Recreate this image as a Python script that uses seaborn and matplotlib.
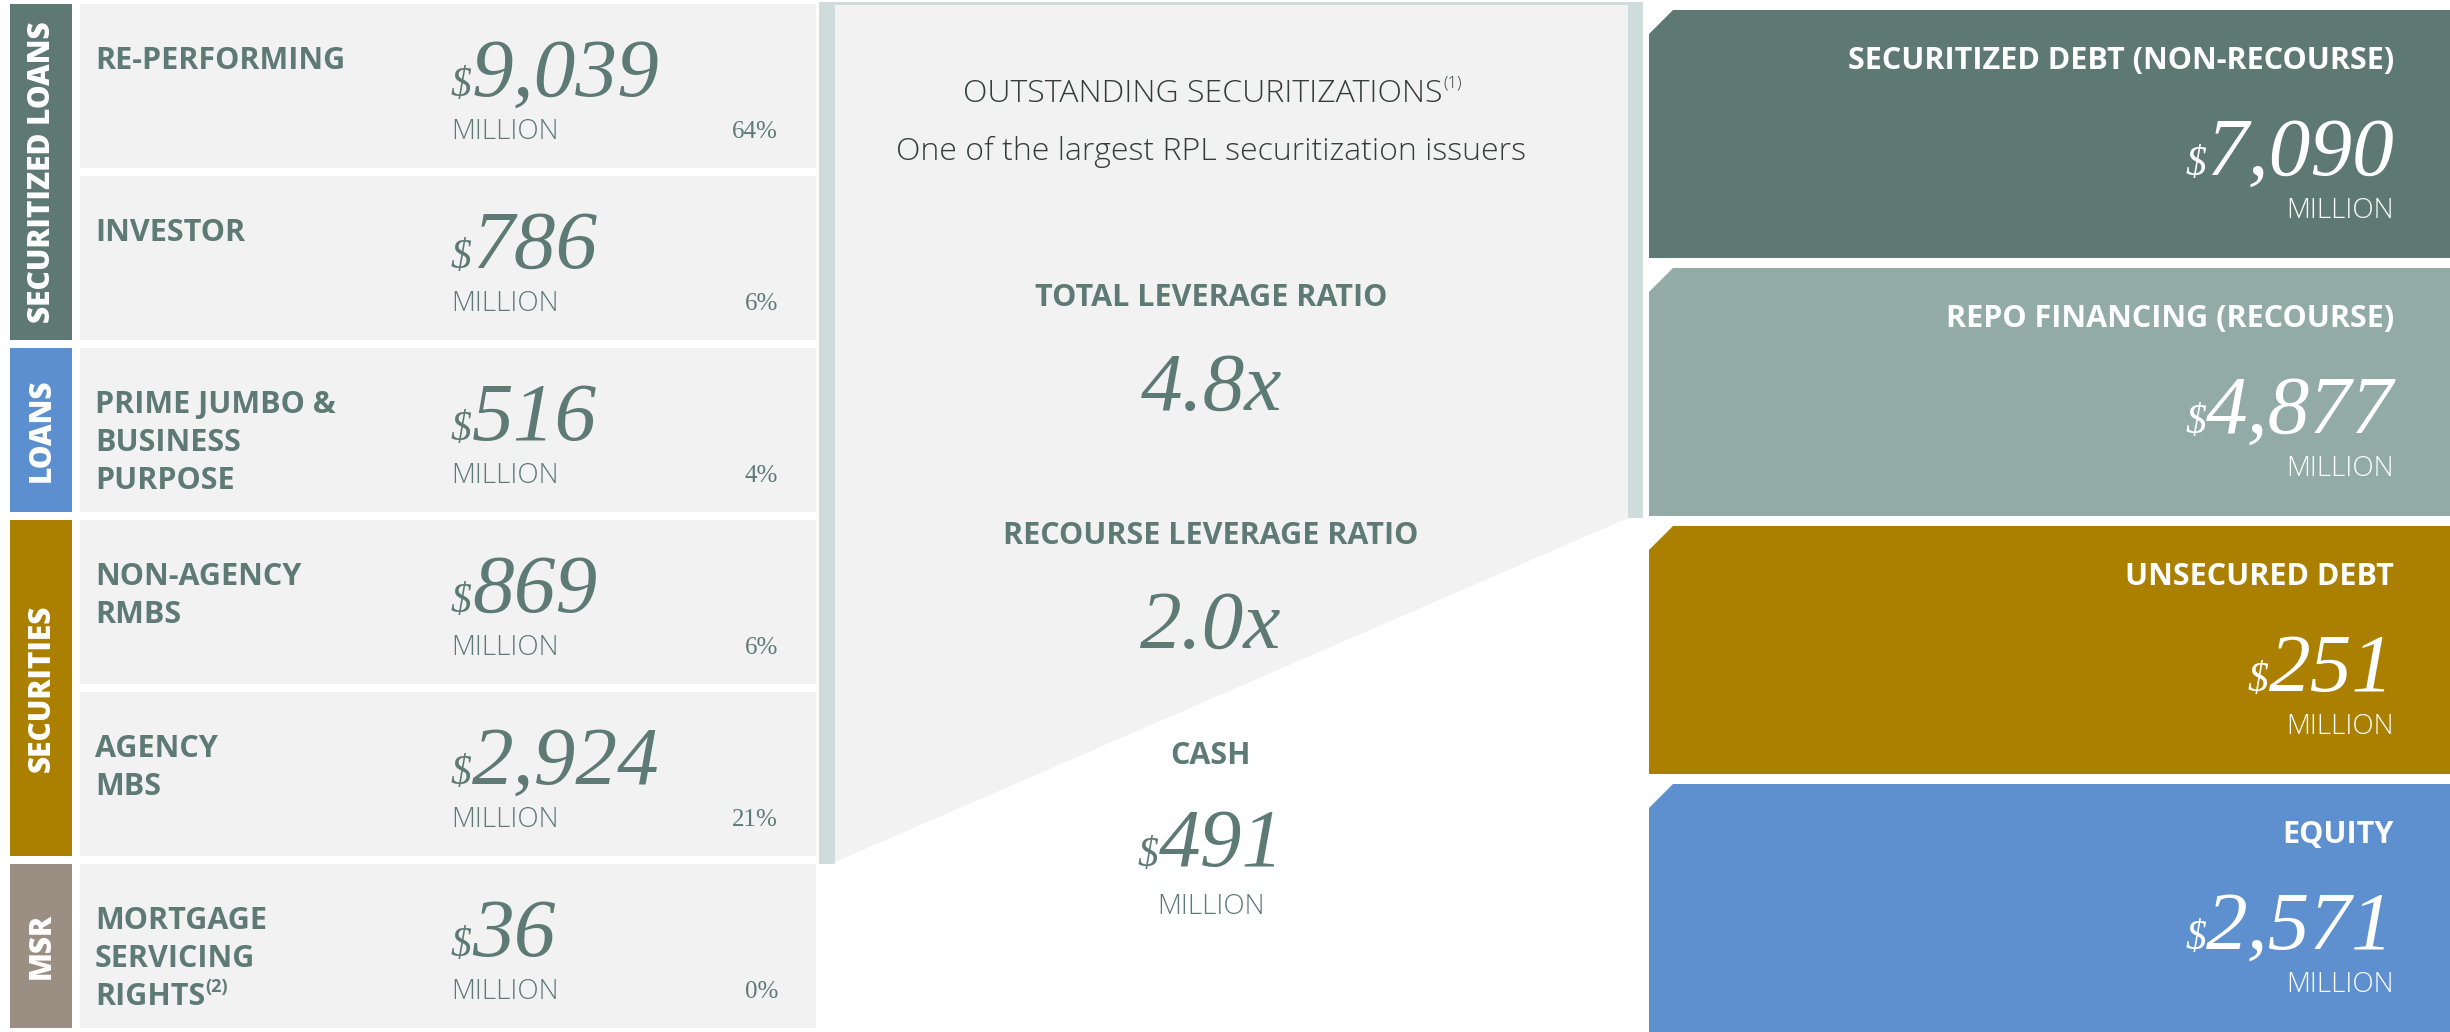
import matplotlib.pyplot as plt
import matplotlib.patches as mpatches
import seaborn as sns

# left side: assets
group_names = ["SECURITIZED LOANS", "LOANS", "SECURITIES", "MSR"]
group_rows = [2, 1, 2, 1]
asset_labels = ["RE-PERFORMING", "INVESTOR", "PRIME JUMBO &\nBUSINESS\nPURPOSE",
                "NON-AGENCY\nRMBS", "AGENCY\nMBS", "MORTGAGE\nSERVICING\nRIGHTS"]
asset_notes = ["", "", "", "", "", "(2)"]
asset_values = ["9,039", "786", "516", "869", "2,924", "36"]
asset_pcts = ["64%", "6%", "4%", "6%", "21%", "0%"]

# middle: securitizations, leverage, cash
sec_title = "OUTSTANDING SECURITIZATIONS"
sec_note = "(1)"
sec_sub = "One of the largest RPL securitization issuers"
ratio_labels = ["TOTAL LEVERAGE RATIO", "RECOURSE LEVERAGE RATIO"]
ratio_values = ["4.8x", "2.0x"]
cash_label = "CASH"
cash_value = "491"

# right side: liabilities and equity
liab_labels = ["SECURITIZED DEBT (NON-RECOURSE)", "REPO FINANCING (RECOURSE)",
               "UNSECURED DEBT", "EQUITY"]
liab_values = ["7,090", "4,877", "251", "2,571"]

group_colors = ["#5e7873", "#5b8fd0", "#ab7f00", "#9b8e83"]
liab_colors = ["#5e7873", "#92aba7", "#ab7f00", "#5e90d0"]
teal = "#5e7a75"
tile = "#f2f2f2"
stripe = "#cedcdb"

sns.set_theme(style="white")
plt.rcParams["font.family"] = ["Open Sans", "DejaVu Sans"]

fig = plt.figure(figsize=(24.5, 10.32), dpi=100)
ax = fig.add_axes([0, 0, 1, 1])
ax.set_xlim(0, 2450)
ax.set_ylim(1032, 0)
ax.axis("off")
r = fig.canvas.get_renderer()

serif = "Liberation Serif"
light = dict(family="Open Sans", fontweight=300)
bold = dict(family="Open Sans", fontweight="bold")


def money(x, y, num, ha, color, big=60, small=30):
    d = ax.text(0, y, "$", fontsize=small, family=serif, style="italic",
                color=color, ha="left", va="baseline")
    n = ax.text(0, y, num, fontsize=big, family=serif, style="italic",
                color=color, ha="left", va="baseline")
    wd = d.get_window_extent(r).width
    wn = n.get_window_extent(r).width
    if ha == "left":
        x0 = x
    elif ha == "right":
        x0 = x - wd - wn
    else:
        x0 = x - (wd + wn) / 2
    d.set_x(x0)
    n.set_x(x0 + wd)


# ---- left panel
pitch, h = 172, 164
row = 0
for g, nrows, c in zip(group_names, group_rows, group_colors):
    y0 = 4 + row * pitch
    y1 = 4 + (row + nrows - 1) * pitch + h
    ax.add_patch(mpatches.Rectangle((10, y0), 62, y1 - y0, color=c, lw=0))
    ax.text(42, (y0 + y1) / 2, g, rotation=90, ha="center", va="center",
            color="white", fontsize=21.5, family="Open Sans", fontweight=800)
    row += nrows

for i, (lab, note, val, pct) in enumerate(zip(asset_labels, asset_notes, asset_values, asset_pcts)):
    top = 4 + i * pitch
    ax.add_patch(mpatches.Rectangle((80, top), 736, h, color=tile, lw=0))
    lines = lab.split("\n")
    for j, ln in enumerate(lines):
        t = ax.text(95, top + 57 + j * 38, ln, ha="left", va="center", color=teal,
                    fontsize=22, **bold)
        if j == len(lines) - 1 and note:
            bb = t.get_window_extent(r)
            ax.text(95 + bb.width, top + 47 + j * 38, note, ha="left", va="center",
                    color=teal, fontsize=13, **bold)
    money(451, top + 92, val, "left", teal)
    ax.text(451, top + 128, "MILLION", ha="left", va="center", color=teal,
            fontsize=20, **light)
    ax.text(778, top + 128, pct, ha="right", va="center", color=teal,
            fontsize=18, family=serif)

# ---- middle panel
ax.add_patch(mpatches.Polygon([(835, 4), (1628, 4), (1628, 518), (835, 862)],
                              closed=True, color=tile, lw=0))
ax.add_patch(mpatches.Rectangle((819, 2), 16, 862, color=stripe, lw=0))
ax.add_patch(mpatches.Rectangle((1628, 2), 15, 516, color=stripe, lw=0))
ax.add_patch(mpatches.Rectangle((819, 2), 824, 3, color=stripe, lw=0))

cx = 1211
dark = "#353d3b"
t = ax.text(cx - 8, 94, sec_title, ha="center", va="center", color=dark,
            fontsize=23, **light)
bb = t.get_window_extent(r)
ax.text(cx - 8 + bb.width / 2 + 1, 84, sec_note, ha="left", va="center",
        color=dark, fontsize=12, **light)
ax.text(cx, 152, sec_sub, ha="center", va="center", color=dark,
        fontsize=23, **light)

for k, (lab, val) in enumerate(zip(ratio_labels, ratio_values)):
    ty = 298 + k * 238
    ax.text(cx, ty, lab, ha="center", va="center", color=teal,
            fontsize=22, **bold)
    ax.text(cx, ty + 112, val, ha="center", va="baseline", color=teal,
            fontsize=60, family=serif, style="italic")

ax.text(cx, 756, cash_label, ha="center", va="center", color=teal,
        fontsize=22, **bold)
money(cx, 866, cash_value, "center", teal)
ax.text(cx, 907, "MILLION", ha="center", va="center", color=teal,
        fontsize=20, **light)

# ---- right panel
bh, bp = 248, 258
for i, (lab, val, c) in enumerate(zip(liab_labels, liab_values, liab_colors)):
    top = 10 + i * bp
    bot = top + bh if i < 3 else 1040
    ax.add_patch(mpatches.Polygon([(1649, top + 24), (1673, top), (2450, top),
                                   (2450, bot), (1649, bot)], closed=True, color=c, lw=0))
    ax.text(2394, top + 51, lab, ha="right", va="center", color="white",
            fontsize=22, **bold)
    money(2394, top + 165, val, "right", "white")
    ax.text(2394, top + 201, "MILLION", ha="right", va="center", color="white",
            fontsize=20, **light)

fig.savefig("out.png", dpi=100)
